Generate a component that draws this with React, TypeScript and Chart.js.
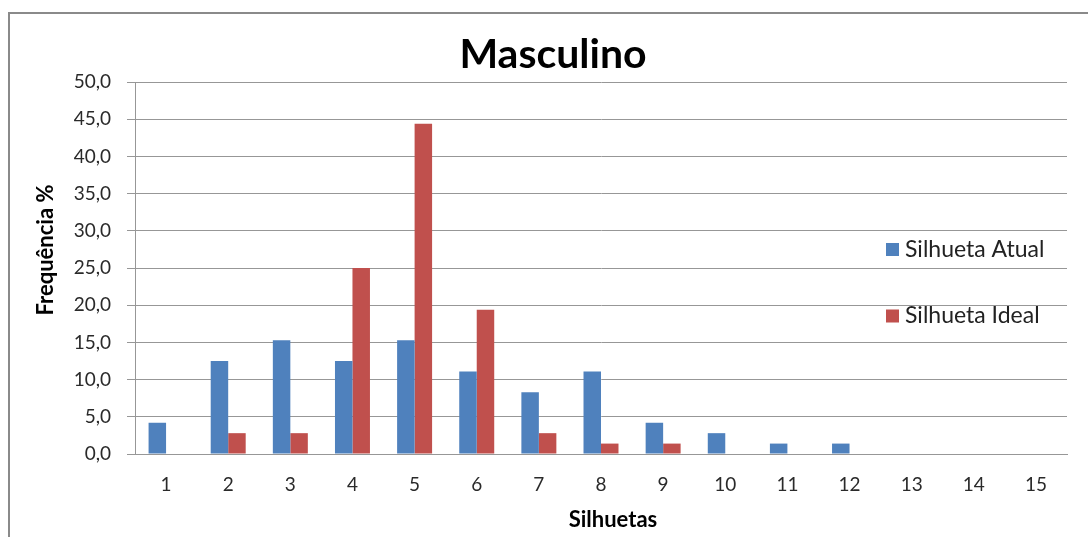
import React, { useEffect, useRef } from "react";
import { Chart, registerables } from "chart.js";

Chart.register(...registerables);

const categories = ["1", "2", "3", "4", "5", "6", "7", "8", "9", "10", "11", "12", "13", "14", "15"];
const atual = [4.2, 12.5, 15.3, 12.5, 15.3, 11.1, 8.3, 11.1, 4.2, 2.8, 1.4, 1.4, 0, 0, 0];
const ideal = [0, 2.8, 2.8, 25.0, 44.4, 19.4, 2.8, 1.4, 1.4, 0, 0, 0, 0, 0, 0];
const seriesLabels = ["Silhueta Atual", "Silhueta Ideal"];
const seriesColors = ["#4F81BD", "#C0504D"];
const yMin = 0;
const yMax = 50;
const yStep = 5;
const chartTitle = "Masculino";
const xTitle = "Silhuetas";
const yTitle = "Frequência %";

const FONT = "Lato";

const decorPlugin = {
  id: "decor",
  beforeDraw(chart: any) {
    const ctx = chart.ctx;
    ctx.save();
    ctx.fillStyle = "#ffffff";
    ctx.fillRect(0, 0, chart.width, chart.height);
    ctx.restore();
  },
  afterDraw(chart: any) {
    const ctx = chart.ctx;
    ctx.save();
    // outer frame
    ctx.strokeStyle = "#8a8a8a";
    ctx.lineWidth = 2;
    ctx.strokeRect(9, 13, 1200, 800);
    // chart title
    ctx.fillStyle = "#000000";
    ctx.textAlign = "center";
    ctx.textBaseline = "alphabetic";
    ctx.font = `bold 41px ${FONT}`;
    ctx.fillText(chartTitle, 553, 68);
    // x axis title
    ctx.font = `bold 22px ${FONT}`;
    ctx.fillText(xTitle, 613, 527);
    // y axis title
    ctx.save();
    ctx.translate(53, 250);
    ctx.rotate(-Math.PI / 2);
    ctx.fillText(yTitle, 0, 0);
    ctx.restore();
    // legend
    const ds = chart.data.datasets;
    const ys = [256.5, 323];
    ctx.font = `23px ${FONT}`;
    ctx.textAlign = "left";
    ds.forEach((d: any, i: number) => {
      ctx.fillStyle = d.backgroundColor;
      ctx.fillRect(886, ys[i] - 13.5, 13, 13);
      ctx.fillStyle = "#222222";
      ctx.fillText(d.label, 905, ys[i]);
    });
    ctx.restore();
  },
};

export default function App() {
  const ref = useRef<HTMLCanvasElement | null>(null);
  useEffect(() => {
    if (!ref.current) return;
    const chart = new Chart(ref.current, {
      type: "bar",
      data: {
        labels: categories,
        datasets: [
          { label: seriesLabels[0], data: atual, backgroundColor: seriesColors[0], borderWidth: 0 },
          { label: seriesLabels[1], data: ideal, backgroundColor: seriesColors[1], borderWidth: 0 },
        ],
      },
      options: {
        responsive: false,
        animation: false,
        devicePixelRatio: 1,
        layout: { padding: { left: 0, right: 21, top: 82, bottom: 0 } },
        datasets: { bar: { barPercentage: 1, categoryPercentage: 0.563 } },
        plugins: {
          legend: { display: false },
          title: { display: false },
          tooltip: { enabled: false },
        },
        scales: {
          x: {
            grid: { display: false, drawTicks: false },
            border: { display: true, color: "#979797", width: 1 },
            ticks: { font: { family: FONT, size: 19 }, color: "#2a2a2a", padding: 19, maxRotation: 0 },
            afterFit(scale: any) {
              scale.height = 83;
            },
          },
          y: {
            min: yMin,
            max: yMax,
            ticks: {
              stepSize: yStep,
              font: { family: FONT, size: 19 },
              color: "#2a2a2a",
              padding: 16,
              callback: (v: any) => Number(v).toFixed(1).replace(".", ","),
            },
            grid: { color: "#979797", lineWidth: 1, tickLength: 8, drawTicks: true },
            border: { display: true, color: "#979797", width: 1 },
            afterFit(scale: any) {
              scale.width = 135;
            },
          },
        },
      },
      plugins: [decorPlugin],
    });
    return () => chart.destroy();
  }, []);
  return (
    <div style={{ position: "fixed", left: 0, top: 0, width: 1088, height: 537 }}>
      <canvas ref={ref} width={1088} height={537} style={{ display: "block" }} />
    </div>
  );
}
